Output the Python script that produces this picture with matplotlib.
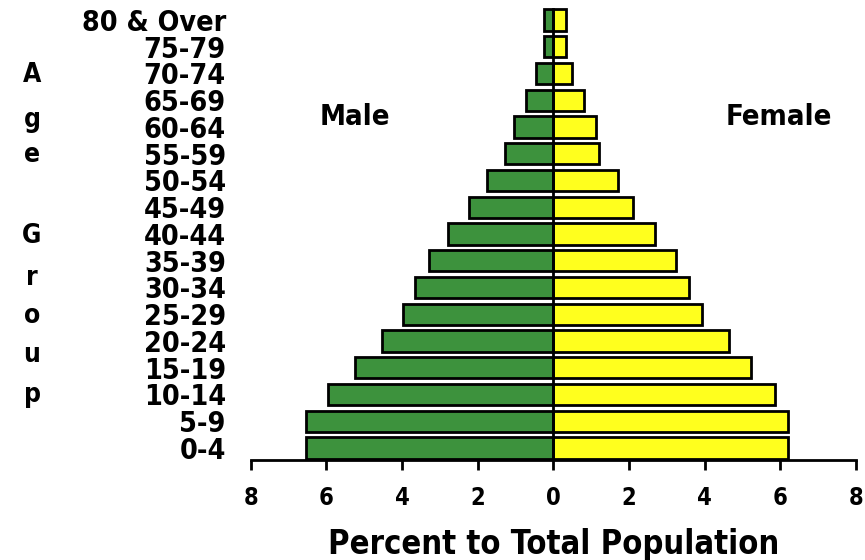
import numpy as np
import matplotlib.pyplot as plt

# 연령대 (아래 -> 위)
age_groups = ['0-4', '5-9', '10-14', '15-19', '20-24', '25-29', '30-34', '35-39',
              '40-44', '45-49', '50-54', '55-59', '60-64', '65-69', '70-74',
              '75-79', '80 & Over']
male = [6.55, 6.55, 5.95, 5.25, 4.54, 3.98, 3.66, 3.29, 2.79, 2.23,
        1.75, 1.27, 1.03, 0.72, 0.45, 0.24, 0.24]
female = [6.2, 6.2, 5.87, 5.23, 4.64, 3.93, 3.6, 3.24, 2.68, 2.1,
          1.7, 1.22, 1.14, 0.82, 0.5, 0.34, 0.34]
xticks = [-8, -6, -4, -2, 0, 2, 4, 6, 8]

plt.rcParams['font.family'] = ['DejaVu Sans']
plt.rcParams['font.stretch'] = 'condensed'
plt.rcParams['font.weight'] = 'bold'

fig = plt.figure(figsize=(8.65, 5.6), dpi=100)
ax = fig.add_axes([0.290, 0.1786, 0.6994, 0.8125])

y = np.arange(len(age_groups))
h = 0.79
ax.barh(y, -np.array(male), height=h, color='#3d923d', edgecolor='black', linewidth=2)
ax.barh(y, female, height=h, color='#ffff1e', edgecolor='black', linewidth=2)
ax.vlines(0, -0.45, y[-1] + h / 2, color='black', linewidth=2, zorder=3)

ax.set_xlim(-8, 8)
ax.set_ylim(-0.45, 16.56)
ax.set_xticks(xticks)
ax.set_xticklabels([str(abs(v)) for v in xticks], fontsize=17, fontweight='bold')
ax.set_yticks(y)
ax.set_yticklabels(age_groups, fontsize=20.5, fontweight='bold')
ax.tick_params(axis='y', length=0, pad=18)
ax.tick_params(axis='x', length=7, width=2, direction='out', pad=12)
for s in ['top', 'right', 'left']:
    ax.spines[s].set_visible(False)
ax.spines['bottom'].set_linewidth(2)

ax.set_xlabel('Percent to Total Population', fontsize=23.5, fontweight='bold', labelpad=13)

ax.text(-5.24, 12.37, 'Male', fontsize=21, fontweight='bold', ha='center', va='center')
ax.text(5.95, 12.37, 'Female', fontsize=21, fontweight='bold', ha='center', va='center')

# 세로 "Age Group"
letters = ['A', 'g', 'e', 'G', 'r', 'o', 'u', 'p']
ys = [75, 120, 155, 236, 278, 316, 355, 395]
for ch, yp in zip(letters, ys):
    fig.text(32 / 865, 1 - yp / 560, ch, fontsize=19, fontweight='bold',
             ha='center', va='center')

fig.savefig('out.png', dpi=100)
